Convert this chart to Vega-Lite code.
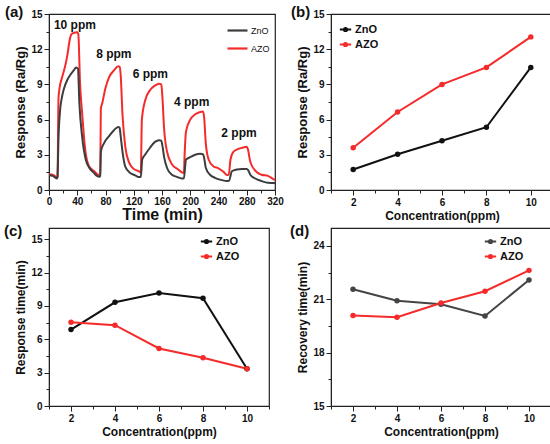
{
  "$schema": "https://vega.github.io/schema/vega-lite/v6.json",
  "padding": {"left": 3, "top": 4, "right": 5, "bottom": 2},
  "datasets": {
    "series": [
      {"t": 0, "r": 1.35, "s": "AZO"}, {"t": 5, "r": 1.3, "s": "AZO"}, {"t": 9, "r": 1.15, "s": "AZO"}, {"t": 11, "r": 1.0, "s": "AZO"},
      {"t": 12, "r": 1.1, "s": "AZO"}, {"t": 13.5, "r": 7.9, "s": "AZO"}, {"t": 15, "r": 8.7, "s": "AZO"}, {"t": 19, "r": 9.7, "s": "AZO"},
      {"t": 23, "r": 10.6, "s": "AZO"}, {"t": 26, "r": 11.5, "s": "AZO"}, {"t": 30, "r": 13.0, "s": "AZO"}, {"t": 33, "r": 13.35, "s": "AZO"},
      {"t": 36, "r": 13.4, "s": "AZO"}, {"t": 40, "r": 13.45, "s": "AZO"}, {"t": 41.5, "r": 13.3, "s": "AZO"}, {"t": 44, "r": 9.0, "s": "AZO"},
      {"t": 47, "r": 6.5, "s": "AZO"}, {"t": 50, "r": 4.2, "s": "AZO"}, {"t": 52, "r": 3.1, "s": "AZO"}, {"t": 56, "r": 2.1, "s": "AZO"},
      {"t": 60, "r": 1.8, "s": "AZO"}, {"t": 64, "r": 1.6, "s": "AZO"}, {"t": 68, "r": 1.35, "s": "AZO"}, {"t": 71, "r": 1.25, "s": "AZO"},
      {"t": 72.5, "r": 1.3, "s": "AZO"}, {"t": 73.5, "r": 7.0, "s": "AZO"}, {"t": 75, "r": 7.3, "s": "AZO"}, {"t": 80, "r": 8.7, "s": "AZO"},
      {"t": 85, "r": 9.6, "s": "AZO"}, {"t": 92, "r": 10.2, "s": "AZO"}, {"t": 98, "r": 10.55, "s": "AZO"}, {"t": 100, "r": 10.5, "s": "AZO"},
      {"t": 101.5, "r": 9.8, "s": "AZO"}, {"t": 104, "r": 6.5, "s": "AZO"}, {"t": 108, "r": 3.7, "s": "AZO"}, {"t": 113, "r": 2.4, "s": "AZO"},
      {"t": 120, "r": 1.8, "s": "AZO"}, {"t": 127, "r": 1.6, "s": "AZO"}, {"t": 130, "r": 1.5, "s": "AZO"}, {"t": 131.5, "r": 6.0, "s": "AZO"},
      {"t": 136, "r": 7.6, "s": "AZO"}, {"t": 143, "r": 8.5, "s": "AZO"}, {"t": 150, "r": 8.9, "s": "AZO"}, {"t": 156, "r": 9.05, "s": "AZO"},
      {"t": 159, "r": 9.0, "s": "AZO"}, {"t": 160.5, "r": 8.0, "s": "AZO"}, {"t": 163, "r": 5.2, "s": "AZO"}, {"t": 167, "r": 3.3, "s": "AZO"},
      {"t": 174, "r": 2.2, "s": "AZO"}, {"t": 183, "r": 1.75, "s": "AZO"}, {"t": 188, "r": 1.5, "s": "AZO"}, {"t": 191, "r": 1.45, "s": "AZO"},
      {"t": 192, "r": 3.0, "s": "AZO"}, {"t": 194, "r": 5.0, "s": "AZO"}, {"t": 200, "r": 6.0, "s": "AZO"}, {"t": 207, "r": 6.45, "s": "AZO"},
      {"t": 214, "r": 6.65, "s": "AZO"}, {"t": 218, "r": 6.7, "s": "AZO"}, {"t": 219.5, "r": 6.3, "s": "AZO"}, {"t": 222, "r": 4.0, "s": "AZO"},
      {"t": 226, "r": 2.6, "s": "AZO"}, {"t": 233, "r": 2.0, "s": "AZO"}, {"t": 240, "r": 1.85, "s": "AZO"}, {"t": 247, "r": 1.55, "s": "AZO"},
      {"t": 252, "r": 1.28, "s": "AZO"}, {"t": 254.5, "r": 1.3, "s": "AZO"}, {"t": 257, "r": 2.6, "s": "AZO"}, {"t": 261, "r": 3.25, "s": "AZO"},
      {"t": 268, "r": 3.5, "s": "AZO"}, {"t": 275, "r": 3.62, "s": "AZO"}, {"t": 280, "r": 3.68, "s": "AZO"}, {"t": 281.5, "r": 3.5, "s": "AZO"},
      {"t": 285, "r": 2.4, "s": "AZO"}, {"t": 292, "r": 1.65, "s": "AZO"}, {"t": 301, "r": 1.3, "s": "AZO"}, {"t": 310, "r": 1.2, "s": "AZO"},
      {"t": 317, "r": 0.95, "s": "AZO"}, {"t": 320, "r": 0.85, "s": "AZO"},
      {"t": 0, "r": 1.25, "s": "ZnO"}, {"t": 5, "r": 1.2, "s": "ZnO"}, {"t": 9, "r": 1.05, "s": "ZnO"}, {"t": 11, "r": 0.98, "s": "ZnO"},
      {"t": 12, "r": 1.1, "s": "ZnO"}, {"t": 13.5, "r": 4.5, "s": "ZnO"}, {"t": 16, "r": 7.0, "s": "ZnO"}, {"t": 18, "r": 7.8, "s": "ZnO"},
      {"t": 21, "r": 8.6, "s": "ZnO"}, {"t": 26, "r": 9.4, "s": "ZnO"}, {"t": 30, "r": 9.8, "s": "ZnO"}, {"t": 35, "r": 10.2, "s": "ZnO"},
      {"t": 38.5, "r": 10.45, "s": "ZnO"}, {"t": 41, "r": 10.35, "s": "ZnO"}, {"t": 43, "r": 7.4, "s": "ZnO"}, {"t": 47, "r": 4.5, "s": "ZnO"},
      {"t": 52, "r": 2.6, "s": "ZnO"}, {"t": 57, "r": 1.9, "s": "ZnO"}, {"t": 63, "r": 1.5, "s": "ZnO"}, {"t": 68, "r": 1.2, "s": "ZnO"},
      {"t": 71, "r": 1.12, "s": "ZnO"}, {"t": 72.5, "r": 1.2, "s": "ZnO"}, {"t": 73.5, "r": 3.3, "s": "ZnO"}, {"t": 78, "r": 4.0, "s": "ZnO"},
      {"t": 85, "r": 4.6, "s": "ZnO"}, {"t": 92, "r": 5.1, "s": "ZnO"}, {"t": 98, "r": 5.38, "s": "ZnO"}, {"t": 100, "r": 5.3, "s": "ZnO"},
      {"t": 101.5, "r": 4.6, "s": "ZnO"}, {"t": 104, "r": 3.3, "s": "ZnO"}, {"t": 108, "r": 2.0, "s": "ZnO"}, {"t": 115, "r": 1.45, "s": "ZnO"},
      {"t": 122, "r": 1.25, "s": "ZnO"}, {"t": 128, "r": 1.1, "s": "ZnO"}, {"t": 130, "r": 1.1, "s": "ZnO"}, {"t": 132, "r": 2.6, "s": "ZnO"},
      {"t": 136, "r": 3.0, "s": "ZnO"}, {"t": 143, "r": 3.6, "s": "ZnO"}, {"t": 150, "r": 4.1, "s": "ZnO"}, {"t": 156, "r": 4.25, "s": "ZnO"},
      {"t": 159, "r": 4.2, "s": "ZnO"}, {"t": 160.5, "r": 3.8, "s": "ZnO"}, {"t": 163, "r": 2.8, "s": "ZnO"}, {"t": 167, "r": 1.9, "s": "ZnO"},
      {"t": 174, "r": 1.3, "s": "ZnO"}, {"t": 181, "r": 1.12, "s": "ZnO"}, {"t": 188, "r": 0.98, "s": "ZnO"}, {"t": 191, "r": 1.0, "s": "ZnO"},
      {"t": 194, "r": 2.6, "s": "ZnO"}, {"t": 200, "r": 2.8, "s": "ZnO"}, {"t": 207, "r": 3.0, "s": "ZnO"}, {"t": 214, "r": 3.08, "s": "ZnO"},
      {"t": 218, "r": 3.05, "s": "ZnO"}, {"t": 219.5, "r": 2.8, "s": "ZnO"}, {"t": 222, "r": 1.9, "s": "ZnO"}, {"t": 228, "r": 1.3, "s": "ZnO"},
      {"t": 235, "r": 1.04, "s": "ZnO"}, {"t": 245, "r": 0.84, "s": "ZnO"}, {"t": 252, "r": 0.76, "s": "ZnO"}, {"t": 255, "r": 0.8, "s": "ZnO"},
      {"t": 259, "r": 1.6, "s": "ZnO"}, {"t": 266, "r": 1.74, "s": "ZnO"}, {"t": 273, "r": 1.8, "s": "ZnO"}, {"t": 280, "r": 1.8, "s": "ZnO"},
      {"t": 282, "r": 1.7, "s": "ZnO"}, {"t": 285, "r": 1.3, "s": "ZnO"}, {"t": 292, "r": 0.98, "s": "ZnO"}, {"t": 301, "r": 0.76, "s": "ZnO"},
      {"t": 310, "r": 0.62, "s": "ZnO"}, {"t": 320, "r": 0.6, "s": "ZnO"}
    ],
    "ppm": [
      {"t": 36.7, "r": 14.1, "label": "10 ppm"},
      {"t": 91.8, "r": 11.55, "label": "8 ppm"},
      {"t": 143.5, "r": 9.92, "label": "6 ppm"},
      {"t": 202, "r": 7.5, "label": "4 ppm"},
      {"t": 269, "r": 4.82, "label": "2 ppm"}
    ],
    "response": [
      {"c": 2, "v": 1.75, "s": "ZnO"}, {"c": 4, "v": 3.05, "s": "ZnO"}, {"c": 6, "v": 4.2, "s": "ZnO"}, {"c": 8, "v": 5.35, "s": "ZnO"}, {"c": 10, "v": 10.45, "s": "ZnO"},
      {"c": 2, "v": 3.6, "s": "AZO"}, {"c": 4, "v": 6.65, "s": "AZO"}, {"c": 6, "v": 9.0, "s": "AZO"}, {"c": 8, "v": 10.45, "s": "AZO"}, {"c": 10, "v": 13.05, "s": "AZO"}
    ],
    "resptime": [
      {"c": 2, "v": 6.87, "s": "ZnO"}, {"c": 4, "v": 9.32, "s": "ZnO"}, {"c": 6, "v": 10.16, "s": "ZnO"}, {"c": 8, "v": 9.68, "s": "ZnO"}, {"c": 10, "v": 3.35, "s": "ZnO"},
      {"c": 2, "v": 7.53, "s": "AZO"}, {"c": 4, "v": 7.26, "s": "AZO"}, {"c": 6, "v": 5.17, "s": "AZO"}, {"c": 8, "v": 4.33, "s": "AZO"}, {"c": 10, "v": 3.35, "s": "AZO"}
    ],
    "rectime": [
      {"c": 2, "v": 21.56, "s": "ZnO"}, {"c": 4, "v": 20.91, "s": "ZnO"}, {"c": 6, "v": 20.71, "s": "ZnO"}, {"c": 8, "v": 20.06, "s": "ZnO"}, {"c": 10, "v": 22.08, "s": "ZnO"},
      {"c": 2, "v": 20.08, "s": "AZO"}, {"c": 4, "v": 19.99, "s": "AZO"}, {"c": 6, "v": 20.79, "s": "AZO"}, {"c": 8, "v": 21.45, "s": "AZO"}, {"c": 10, "v": 22.62, "s": "AZO"}
    ]
  },
  "vconcat": [
    {
      "hconcat": [
        {
          "width": 226,
          "height": 176,
          "title": {"text": "(a)", "anchor": "start", "frame": "group", "dx": -44, "offset": -11},
          "encoding": {
            "x": {"field": "t", "type": "quantitative", "scale": {"domain": [0, 320]},
              "axis": {"title": "Time (min)", "titleFontSize": 16, "titlePadding": 0, "labelPadding": 1,
                "values": [0, 20, 40, 60, 80, 100, 120, 140, 160, 180, 200, 220, 240, 260, 280, 300, 320],
                "labelExpr": "datum.value % 40 == 0 ? datum.label : ''",
                "tickSize": {"condition": {"test": "datum.value % 40 == 0", "value": 5}, "value": 3}}},
            "y": {"field": "r", "type": "quantitative", "scale": {"domain": [0, 15]},
              "axis": {"title": "Response (Ra/Rg)", "titleFontSize": 13,
                "values": [0, 1.5, 3, 4.5, 6, 7.5, 9, 10.5, 12, 13.5, 15],
                "labelExpr": "datum.value % 3 == 0 ? datum.label : ''",
                "tickSize": {"condition": {"test": "datum.value % 3 == 0", "value": 5}, "value": 3}}}
          },
          "layer": [
            {
              "data": {"name": "series"},
              "mark": {"type": "line", "strokeWidth": 2, "interpolate": "monotone"},
              "encoding": {
                "color": {"field": "s", "type": "nominal",
                  "scale": {"domain": ["ZnO", "AZO"], "range": ["#3d3d3d", "#f52a2a"]},
                  "legend": {"title": null, "orient": "top-right", "offset": 3, "symbolType": "stroke", "symbolStrokeWidth": 2.2, "symbolSize": 400,
                    "labelFontWeight": "normal", "labelFontSize": 9, "rowPadding": 1, "labelOffset": 2}}
              }
            },
            {
              "data": {"name": "ppm"},
              "mark": {"type": "text", "fontSize": 12, "fontWeight": "bold", "font": "Liberation Sans", "color": "#111"},
              "encoding": {"text": {"field": "label"}}
            }
          ]
        },
        {
          "width": 222,
          "height": 176,
          "title": {"text": "(b)", "anchor": "start", "frame": "group", "dx": -40, "offset": -11},
          "data": {"name": "response"},
          "encoding": {
            "x": {"field": "c", "type": "quantitative", "scale": {"domain": [1, 11]},
              "axis": {"title": "Concentration(ppm)", "values": [1, 2, 3, 4, 5, 6, 7, 8, 9, 10, 11],
                "labelExpr": "datum.value % 2 == 0 ? datum.label : ''",
                "tickSize": {"condition": {"test": "datum.value % 2 == 0", "value": 5}, "value": 3}}},
            "y": {"field": "v", "type": "quantitative", "scale": {"domain": [0, 15]},
              "axis": {"title": "Response (Ra/Rg)", "titleFontSize": 13,
                "values": [0, 1.5, 3, 4.5, 6, 7.5, 9, 10.5, 12, 13.5, 15],
                "labelExpr": "datum.value % 3 == 0 ? datum.label : ''",
                "tickSize": {"condition": {"test": "datum.value % 3 == 0", "value": 5}, "value": 3}}},
            "color": {"field": "s", "type": "nominal",
              "scale": {"domain": ["ZnO", "AZO"], "range": ["#111111", "#f52a2a"]},
              "legend": {"title": null, "orient": "none", "legendX": 7, "legendY": 8,
                "symbolType": "M-1.6,0H-0.45M0.45,0H1.6M-0.45,0a0.45,0.45 0 1,0 0.9,0a0.45,0.45 0 1,0 -0.9,0",
                "symbolStrokeWidth": 2, "symbolSize": 50, "labelFontSize": 11, "rowPadding": 2}}
          },
          "layer": [
            {"mark": {"type": "line", "strokeWidth": 2}},
            {"mark": {"type": "point", "filled": true, "size": 30, "opacity": 1}}
          ]
        }
      ],
      "spacing": 6,
      "resolve": {"scale": {"color": "independent"}, "legend": {"color": "independent"}}
    },
    {
      "hconcat": [
        {
          "width": 220,
          "height": 178,
          "title": {"text": "(c)", "anchor": "start", "frame": "group", "dx": -45, "offset": -11},
          "data": {"name": "resptime"},
          "encoding": {
            "x": {"field": "c", "type": "quantitative", "scale": {"domain": [1, 11]},
              "axis": {"title": "Concentration(ppm)", "values": [1, 2, 3, 4, 5, 6, 7, 8, 9, 10, 11],
                "labelExpr": "datum.value % 2 == 0 ? datum.label : ''",
                "tickSize": {"condition": {"test": "datum.value % 2 == 0", "value": 5}, "value": 3}}},
            "y": {"field": "v", "type": "quantitative", "scale": {"domain": [0, 16]},
              "axis": {"title": "Response time(min)", "values": [0, 1.5, 3, 4.5, 6, 7.5, 9, 10.5, 12, 13.5, 15],
                "labelExpr": "datum.value % 3 == 0 ? datum.label : ''",
                "tickSize": {"condition": {"test": "datum.value % 3 == 0", "value": 5}, "value": 3}}},
            "color": {"field": "s", "type": "nominal",
              "scale": {"domain": ["ZnO", "AZO"], "range": ["#111111", "#f52a2a"]},
              "legend": {"title": null, "orient": "none", "legendX": 150, "legendY": 6,
                "symbolType": "M-1.6,0H-0.45M0.45,0H1.6M-0.45,0a0.45,0.45 0 1,0 0.9,0a0.45,0.45 0 1,0 -0.9,0",
                "symbolStrokeWidth": 2, "symbolSize": 50, "labelFontSize": 11, "rowPadding": 2}}
          },
          "layer": [
            {"mark": {"type": "line", "strokeWidth": 2}},
            {"mark": {"type": "point", "filled": true, "size": 30, "opacity": 1}}
          ]
        },
        {
          "width": 220,
          "height": 178,
          "title": {"text": "(d)", "anchor": "start", "frame": "group", "dx": -41, "offset": -11},
          "data": {"name": "rectime"},
          "encoding": {
            "x": {"field": "c", "type": "quantitative", "scale": {"domain": [1, 11]},
              "axis": {"title": "Concentration(ppm)", "values": [1, 2, 3, 4, 5, 6, 7, 8, 9, 10, 11],
                "labelExpr": "datum.value % 2 == 0 ? datum.label : ''",
                "tickSize": {"condition": {"test": "datum.value % 2 == 0", "value": 5}, "value": 3}}},
            "y": {"field": "v", "type": "quantitative", "scale": {"domain": [15, 25]},
              "axis": {"title": "Recovery time(min)", "values": [15, 16.5, 18, 19.5, 21, 22.5, 24],
                "labelExpr": "(datum.value - 15) % 3 == 0 ? datum.label : ''",
                "tickSize": {"condition": {"test": "(datum.value - 15) % 3 == 0", "value": 5}, "value": 3}}},
            "color": {"field": "s", "type": "nominal",
              "scale": {"domain": ["ZnO", "AZO"], "range": ["#444444", "#f52a2a"]},
              "legend": {"title": null, "orient": "none", "legendX": 152, "legendY": 6,
                "symbolType": "M-1.6,0H-0.45M0.45,0H1.6M-0.45,0a0.45,0.45 0 1,0 0.9,0a0.45,0.45 0 1,0 -0.9,0",
                "symbolStrokeWidth": 2, "symbolSize": 50, "labelFontSize": 11, "rowPadding": 2}}
          },
          "layer": [
            {"mark": {"type": "line", "strokeWidth": 2}},
            {"mark": {"type": "point", "filled": true, "size": 30, "opacity": 1}}
          ]
        }
      ],
      "spacing": 18,
      "resolve": {"scale": {"color": "independent"}, "legend": {"color": "independent"}}
    }
  ],
  "spacing": 0,
  "resolve": {"scale": {"color": "independent"}, "legend": {"color": "independent"}},
  "config": {
    "font": "Liberation Sans",
    "view": {"stroke": "#222", "strokeWidth": 1.2},
    "title": {"fontSize": 15, "fontWeight": "bold", "color": "#111"},
    "axis": {
      "grid": false,
      "domainColor": "#222",
      "tickColor": "#222",
      "labelFontWeight": "bold",
      "labelFontSize": 10,
      "labelColor": "#111",
      "titleFontSize": 12,
      "titleFontWeight": "bold",
      "titleColor": "#111",
      "labelPadding": 2,
      "titlePadding": 3,
      "labelFlush": false,
      "labelOverlap": false
    },
    "legend": {"labelFont": "Liberation Sans", "labelColor": "#111", "labelFontWeight": "bold", "padding": 2}
  }
}
